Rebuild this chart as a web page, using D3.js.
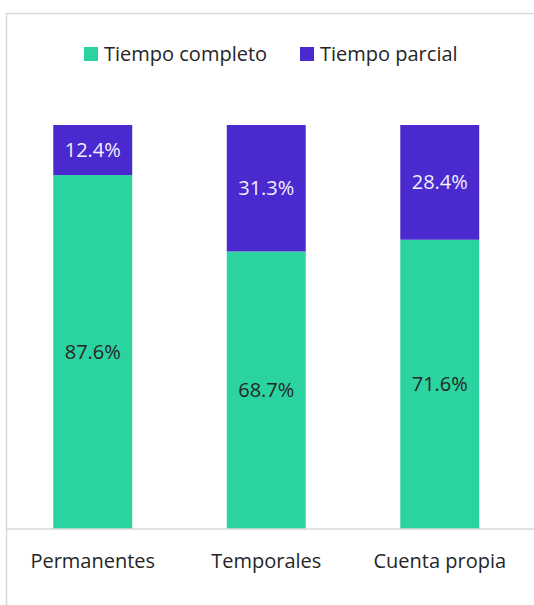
<!DOCTYPE html>
<html>
<head>
<meta charset="utf-8">
<script src="https://cdn.jsdelivr.net/npm/d3@7"></script>
<style>
  html, body { margin: 0; padding: 0; background: #fff; overflow: hidden; }
  svg { display: block; font-family: "Open Sans", "Noto Sans", sans-serif; }
</style>
</head>
<body>
<svg id="chart" width="534" height="605"></svg>
<script>
// ─── Data ────────────────────────────────────────────────────
const categories = ["Permanentes", "Temporales", "Cuenta propia"];
const seriesNames = ["Tiempo completo", "Tiempo parcial"];
const fullTime = [87.6, 68.7, 71.6];
const partTime = [12.4, 31.3, 28.4];
const seriesColors = ["#2bd3a0", "#4a29cf"];
const labelColors = ["#262626", "#f0f0ff"];

// ─── Setup ───────────────────────────────────────────────────
const svg = d3.select("#chart");

// chart frame: only top and left edges fall inside the window
svg.append("path")
  .attr("d", "M6.5,700V13.5H540")
  .attr("fill", "none")
  .attr("stroke", "#d9d9d9")
  .attr("stroke-width", 1.5);

const x = d3.scaleBand()
  .domain(categories)
  .range([6, 526.5])
  .paddingInner(0.545)
  .paddingOuter(0.2725);

const y = d3.scaleLinear().domain([0, 100]).range([529, 125]);

const rows = categories.map((c, i) => ({ cat: c, v0: fullTime[i], v1: partTime[i] }));
const stacked = d3.stack().keys(["v0", "v1"])(rows);

// ─── Bars ────────────────────────────────────────────────────
const layers = svg.append("g")
  .selectAll("g")
  .data(stacked)
  .join("g")
  .attr("fill", (d, i) => seriesColors[i]);

layers.selectAll("rect")
  .data((d) => d)
  .join("rect")
  .attr("x", (d) => x(d.data.cat))
  .attr("y", (d) => y(d[1]))
  .attr("width", x.bandwidth())
  .attr("height", (d) => y(d[0]) - y(d[1]));

// ─── Data labels ─────────────────────────────────────────────
layers.each(function (layer, li) {
  d3.select(this).selectAll("text")
    .data(layer)
    .join("text")
    .attr("x", (d) => x(d.data.cat) + x.bandwidth() / 2)
    .attr("y", (d) => (y(d[0]) + y(d[1])) / 2)
    .attr("dy", "0.35em")
    .attr("text-anchor", "middle")
    .attr("font-size", 20)
    .attr("fill", labelColors[li])
    .text((d) => (d[1] - d[0]).toFixed(1) + "%");
});

// ─── X axis ──────────────────────────────────────────────────
const xAxis = svg.append("g")
  .attr("transform", `translate(0,${y(0)})`)
  .call(d3.axisBottom(x).tickSize(0).tickPadding(25));
xAxis.select(".domain").attr("stroke", "#d9d9d9").attr("stroke-width", 1.5)
  .attr("d", "M6,0H534");
xAxis.selectAll("text")
  .attr("font-size", 20)
  .attr("font-family", "Open Sans, Noto Sans, sans-serif")
  .attr("fill", "#262626");

// ─── Legend ──────────────────────────────────────────────────
const legendX = [84, 300];
const legend = svg.append("g")
  .selectAll("g")
  .data(seriesNames)
  .join("g")
  .attr("transform", (d, i) => `translate(${legendX[i]},47)`);
legend.append("rect")
  .attr("width", 14).attr("height", 14)
  .attr("fill", (d, i) => seriesColors[i]);
legend.append("text")
  .attr("x", 20).attr("y", 7).attr("dy", "0.35em")
  .attr("font-size", 20)
  .attr("fill", "#262626")
  .text((d) => d);
</script>
</body>
</html>
